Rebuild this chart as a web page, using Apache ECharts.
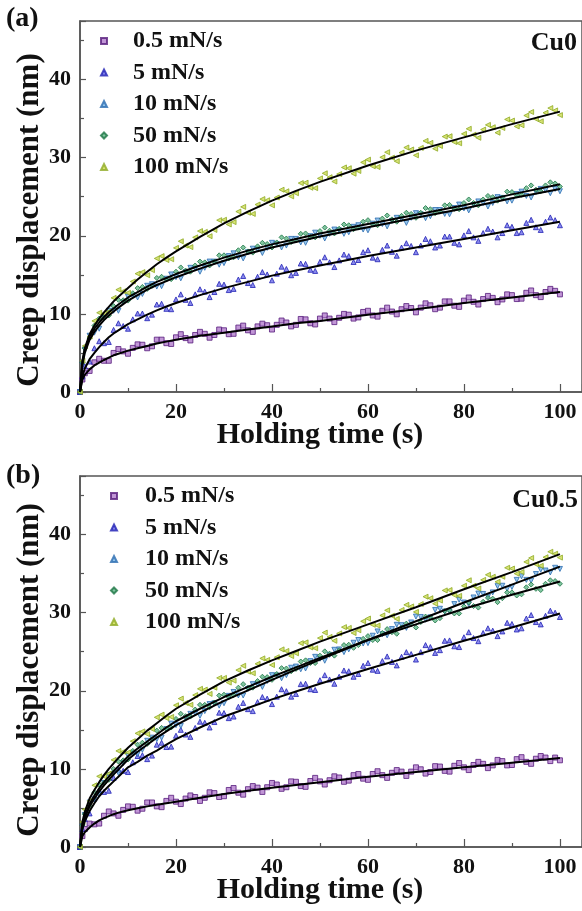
<!DOCTYPE html>
<html>
<head>
<meta charset="utf-8">
<title>Creep displacement vs holding time</title>
<script src="https://cdn.jsdelivr.net/npm/echarts@6/dist/echarts.min.js"></script>
<style>
  html, body { margin: 0; padding: 0; background: #fff; }
  #chart { width: 582px; height: 911px; }
</style>
</head>
<body>
<div id="chart"></div>
<script>
// loading rates (legend)
const rates = ['0.5 mN/s', '5 mN/s', '10 mN/s', '50 mN/s', '100 mN/s'];

// time grid of the fitted curves (s)
const fitTime = [0, 0.5, 1, 2, 3, 4, 5, 6, 7, 8, 10, 12, 14, 16, 18, 20, 25, 30, 35, 40, 45, 50, 60, 70, 80, 90, 100];

// time grid of the measured points (s)
const ptTime = [0, 0.5,
  1, 2, 3, 4, 5, 6, 7, 8, 9, 10, 11, 12, 13, 14, 15, 16, 17, 18, 19, 20,
  21, 22, 23, 24, 25, 26, 27, 28, 29, 30, 31, 32, 33, 34, 35, 36, 37, 38, 39, 40,
  41, 42, 43, 44, 45, 46, 47, 48, 49, 50, 51, 52, 53, 54, 55, 56, 57, 58, 59, 60,
  61, 62, 63, 64, 65, 66, 67, 68, 69, 70, 71, 72, 73, 74, 75, 76, 77, 78, 79, 80,
  81, 82, 83, 84, 85, 86, 87, 88, 89, 90, 91, 92, 93, 94, 95, 96, 97, 98, 99, 100];

// (a) Cu0 - fitted curves (nm)
const cu0Fit05 = [0, 1.6, 2.2, 2.9, 3.4, 3.75, 4.1, 4.4, 4.7, 4.9, 5.3, 5.6, 5.9, 6.2, 6.45, 6.7, 7.2, 7.6, 8.0, 8.4, 8.8, 9.1, 9.9, 10.6, 11.4, 12.1, 12.8];
const cu0Fit5 = [0, 2.0, 3.0, 4.2, 5.0, 5.75, 6.4, 7.0, 7.5, 7.9, 8.7, 9.3, 9.9, 10.45, 10.95, 11.4, 12.4, 13.3, 14.1, 14.9, 15.55, 16.2, 17.4, 18.5, 19.6, 20.7, 21.8];
const cu0Fit10 = [0, 3.5, 5.0, 6.7, 7.7, 8.5, 9.2, 9.8, 10.3, 10.8, 11.7, 12.4, 13.1, 13.7, 14.2, 14.7, 15.8, 16.8, 17.7, 18.5, 19.2, 19.9, 21.1, 22.3, 23.5, 24.8, 26.0];
const cu0Fit50 = [0, 3.8, 5.4, 7.1, 8.1, 8.9, 9.6, 10.2, 10.7, 11.2, 12.1, 12.8, 13.5, 14.1, 14.6, 15.1, 16.2, 17.2, 18.1, 18.9, 19.6, 20.3, 21.5, 22.7, 23.9, 25.3, 26.6];
const cu0Fit100 = [0, 4.0, 5.6, 7.4, 8.5, 9.4, 10.2, 10.9, 11.6, 12.2, 13.3, 14.4, 15.4, 16.35, 17.2, 18.0, 19.85, 21.6, 23.1, 24.5, 25.75, 26.9, 29.0, 30.9, 32.6, 34.3, 35.9];

// (a) Cu0 - measured points (nm)
const cu0Pts05 = [0, 1.6,
  2.4, 2.7, 3.8, 4.25, 4.0, 4.0, 5.0, 5.5, 5.2, 4.9,
  5.65, 6.1, 6.05, 5.6, 5.85, 6.7, 6.7, 6.25, 6.15, 7.0,
  7.4, 6.9, 6.6, 7.3, 7.7, 7.45, 6.95, 7.3, 8.0, 7.9,
  7.4, 7.45, 8.25, 8.5, 7.9, 7.7, 8.4, 8.75, 8.55, 8.0,
  8.6, 9.15, 8.9, 8.4, 8.6, 9.35, 9.3, 8.8, 8.65, 9.4,
  9.8, 9.4, 8.95, 9.5, 10.0, 9.9, 9.4, 9.55, 10.25, 10.4,
  9.8, 9.65, 10.4, 10.8, 10.3, 9.95, 10.6, 11.0, 10.75, 10.2,
  10.8, 11.35, 11.1, 10.6, 10.8, 11.6, 11.6, 11.05, 10.9, 11.7,
  12.1, 11.55, 11.2, 11.9, 12.3, 12.05, 11.5, 11.85, 12.5, 12.4,
  11.9, 11.95, 12.7, 13.0, 12.4, 12.15, 12.8, 13.2, 12.95, 12.5];
const cu0Pts5 = [0, 2.0,
  3.3, 3.9, 5.6, 6.5, 6.25, 6.4, 7.95, 8.8, 8.45, 8.1,
  9.3, 10.05, 10.05, 9.45, 9.9, 11.2, 11.3, 10.65, 10.6, 11.85,
  12.5, 11.8, 11.4, 12.5, 13.15, 12.85, 12.15, 12.8, 13.85, 13.75,
  13.05, 13.2, 14.4, 14.85, 13.95, 13.7, 14.75, 15.35, 15.05, 14.3,
  15.15, 16.05, 15.75, 14.95, 15.25, 16.45, 16.4, 15.65, 15.5, 16.65,
  17.25, 16.6, 16.0, 16.85, 17.6, 17.4, 16.65, 16.9, 17.9, 18.15,
  17.2, 17.0, 18.2, 18.75, 17.95, 17.45, 18.5, 19.05, 18.7, 17.9,
  18.75, 19.6, 19.3, 18.5, 18.75, 19.9, 19.9, 19.1, 18.9, 20.05,
  20.6, 19.8, 19.35, 20.35, 20.9, 20.55, 19.8, 20.35, 21.35, 21.15,
  20.35, 20.45, 21.65, 22.05, 21.1, 20.75, 21.8, 22.35, 22.0, 21.35];
const cu0Pts10 = [0, 3.5,
  5.4, 7.2, 7.6, 8.1, 9.5, 10.4, 10.4, 10.4, 11.45, 12.2,
  12.35, 12.1, 12.55, 13.6, 13.8, 13.5, 13.55, 14.5, 15.05, 14.7,
  14.55, 15.35, 15.9, 15.8, 15.4, 15.9, 16.7, 16.7, 16.3, 16.5,
  17.4, 17.75, 17.25, 17.1, 17.9, 18.35, 18.25, 17.8, 18.45, 19.1,
  18.95, 18.5, 18.75, 19.6, 19.6, 19.15, 19.1, 19.95, 20.4, 20.0,
  19.65, 20.25, 20.8, 20.7, 20.25, 20.45, 21.15, 21.35, 20.8, 20.7,
  21.55, 21.95, 21.5, 21.2, 21.9, 22.3, 22.15, 21.65, 22.3, 22.9,
  22.75, 22.25, 22.5, 23.3, 23.3, 22.8, 22.75, 23.55, 24.0, 23.5,
  23.25, 23.95, 24.4, 24.2, 23.75, 24.2, 24.95, 24.85, 24.4, 24.5,
  25.35, 25.65, 25.1, 24.9, 25.6, 26.0, 25.85, 25.45, 26.0, 25.7];
const cu0Pts50 = [0, 3.8,
  5.6, 6.9, 8.5, 9.4, 9.5, 9.8, 11.0, 11.8, 11.75, 11.7,
  12.65, 13.3, 13.45, 13.2, 13.6, 14.6, 14.75, 14.4, 14.45, 15.4,
  15.95, 15.55, 15.4, 16.2, 16.7, 16.6, 16.2, 16.7, 17.5, 17.5,
  17.1, 17.25, 18.15, 18.5, 18.0, 17.85, 18.65, 19.1, 18.95, 18.5,
  19.15, 19.8, 19.65, 19.2, 19.4, 20.25, 20.3, 19.85, 19.8, 20.6,
  21.05, 20.65, 20.3, 20.9, 21.45, 21.35, 20.85, 21.05, 21.8, 22.0,
  21.45, 21.35, 22.2, 22.6, 22.1, 21.8, 22.55, 22.95, 22.8, 22.3,
  22.95, 23.55, 23.4, 22.9, 23.1, 23.9, 23.95, 23.45, 23.4, 24.2,
  24.65, 24.2, 23.9, 24.65, 25.1, 24.95, 24.5, 24.9, 25.65, 25.6,
  25.15, 25.25, 26.1, 26.45, 25.9, 25.7, 26.45, 26.85, 26.7, 26.3];
const cu0Pts100 = [0, 4.0,
  5.9, 7.1, 9.1, 10.15, 10.05, 10.3, 12.05, 13.1, 12.9, 12.7,
  14.15, 15.15, 15.35, 14.95, 15.6, 17.1, 17.4, 16.9, 17.0, 18.45,
  19.3, 18.75, 18.55, 19.8, 20.6, 20.5, 19.95, 20.75, 22.0, 22.05,
  21.45, 21.75, 23.1, 23.7, 22.95, 22.8, 24.0, 24.7, 24.55, 23.9,
  24.9, 25.9, 25.7, 25.05, 25.45, 26.75, 26.8, 26.15, 26.1, 27.35,
  28.0, 27.5, 26.95, 27.9, 28.75, 28.65, 27.95, 28.3, 29.4, 29.75,
  28.9, 28.8, 30.05, 30.7, 30.0, 29.55, 30.65, 31.3, 31.05, 30.3,
  31.25, 32.15, 31.9, 31.15, 31.5, 32.7, 32.75, 32.0, 31.85, 33.05,
  33.7, 32.95, 32.55, 33.6, 34.2, 33.9, 33.2, 33.8, 34.9, 34.75,
  34.0, 34.15, 35.4, 35.85, 34.95, 34.65, 35.75, 36.35, 36.05, 35.45];

// (b) Cu0.5 - fitted curves (nm)
const cu05Fit05 = [0, 1.4, 1.9, 2.5, 3.0, 3.4, 3.7, 3.95, 4.2, 4.4, 4.7, 4.95, 5.2, 5.4, 5.6, 5.8, 6.3, 6.8, 7.2, 7.6, 7.95, 8.3, 9.0, 9.6, 10.2, 10.8, 11.4];
const cu05Fit5 = [0, 2.3, 3.3, 4.6, 5.6, 6.5, 7.2, 7.8, 8.4, 9.0, 10.2, 10.9, 11.7, 12.35, 13.1, 13.8, 15.3, 16.7, 17.8, 18.9, 19.9, 20.9, 22.8, 24.6, 26.4, 28.1, 29.9];
const cu05Fit10 = [0, 2.6, 3.7, 5.2, 6.2, 7.1, 7.9, 8.6, 9.3, 9.9, 11.2, 12.2, 13.1, 14.0, 14.8, 15.6, 17.2, 18.7, 20.05, 21.4, 22.7, 24.0, 26.5, 28.9, 31.3, 33.6, 35.9];
const cu05Fit50 = [0, 2.8, 4.0, 5.5, 6.6, 7.5, 8.3, 9.0, 9.7, 10.35, 11.6, 12.6, 13.5, 14.4, 15.3, 16.1, 17.7, 19.2, 20.5, 21.8, 23.0, 24.2, 26.5, 28.5, 30.5, 32.3, 34.0];
const cu05Fit100 = [0, 3.2, 4.5, 6.2, 7.3, 8.3, 9.2, 10.0, 10.7, 11.4, 12.7, 13.8, 14.9, 15.85, 16.8, 17.7, 19.5, 21.2, 22.6, 23.9, 25.1, 26.3, 28.5, 30.7, 33.0, 35.2, 37.5];

// (b) Cu0.5 - measured points (nm)
const cu05Pts05 = [0, 1.4,
  2.3, 3.0, 2.9, 3.0, 4.0, 4.55, 4.3, 4.0, 4.75, 5.2,
  5.15, 4.65, 4.9, 5.7, 5.7, 5.2, 5.1, 5.9, 6.3, 5.8,
  5.5, 6.2, 6.6, 6.4, 5.9, 6.3, 7.0, 6.9, 6.4, 6.5,
  7.3, 7.55, 6.95, 6.7, 7.4, 7.8, 7.6, 7.05, 7.65, 8.2,
  8.0, 7.45, 7.65, 8.4, 8.35, 7.8, 7.7, 8.45, 8.85, 8.4,
  8.0, 8.55, 9.05, 8.9, 8.35, 8.5, 9.2, 9.35, 8.75, 8.6,
  9.35, 9.7, 9.2, 8.85, 9.5, 9.85, 9.65, 9.1, 9.65, 10.2,
  9.95, 9.4, 9.6, 10.35, 10.3, 9.75, 9.65, 10.4, 10.75, 10.2,
  9.85, 10.5, 10.9, 10.65, 10.1, 10.45, 11.15, 11.0, 10.45, 10.5,
  11.25, 11.5, 10.9, 10.65, 11.3, 11.65, 11.45, 11.0, 11.45, 11.1];
const cu05Pts5 = [0, 2.3,
  3.6, 4.3, 6.2, 7.25, 7.05, 7.2, 8.85, 9.9, 9.75, 9.6,
  10.85, 11.65, 11.75, 11.25, 11.7, 13.1, 13.35, 12.8, 12.85, 14.25,
  15.0, 14.4, 14.1, 15.25, 16.05, 15.9, 15.3, 16.0, 17.2, 17.15,
  16.5, 16.7, 17.95, 18.45, 17.65, 17.4, 18.55, 19.2, 19.0, 18.3,
  19.25, 20.2, 19.95, 19.25, 19.6, 20.85, 20.9, 20.2, 20.1, 21.35,
  22.0, 21.45, 20.9, 21.8, 22.6, 22.5, 21.8, 22.15, 23.2, 23.55,
  22.7, 22.55, 23.8, 24.4, 23.7, 23.25, 24.35, 24.95, 24.7, 24.0,
  24.95, 25.85, 25.6, 24.85, 25.2, 26.4, 26.45, 25.7, 25.6, 26.85,
  27.5, 26.75, 26.35, 27.4, 28.0, 27.7, 27.0, 27.6, 28.7, 28.55,
  27.85, 28.0, 29.25, 29.7, 28.8, 28.5, 29.6, 30.25, 30.0, 29.45];
const cu05Pts10 = [0, 2.6,
  4.1, 5.7, 6.1, 6.7, 8.2, 9.2, 9.4, 9.5, 10.75, 11.7,
  12.0, 11.9, 12.45, 13.6, 14.0, 13.8, 14.0, 15.1, 15.8, 15.6,
  15.5, 16.45, 17.05, 17.1, 16.8, 17.4, 18.3, 18.4, 18.1, 18.4,
  19.35, 19.85, 19.4, 19.4, 20.25, 20.85, 20.8, 20.5, 21.25, 22.0,
  21.95, 21.6, 22.0, 22.95, 23.1, 22.75, 22.85, 23.8, 24.35, 24.1,
  23.85, 24.6, 25.25, 25.3, 24.95, 25.3, 26.15, 26.5, 26.05, 26.1,
  27.05, 27.6, 27.25, 27.1, 27.9, 28.45, 28.4, 28.05, 28.75, 29.5,
  29.45, 29.1, 29.4, 30.35, 30.5, 30.15, 30.15, 31.1, 31.65, 31.3,
  31.1, 31.95, 32.45, 32.4, 32.05, 32.6, 33.4, 33.45, 33.05, 33.3,
  34.2, 34.65, 34.2, 34.1, 34.95, 35.5, 35.4, 35.15, 35.75, 35.6];
const cu05Pts50 = [0, 2.8,
  4.2, 5.3, 7.0, 8.0, 8.2, 8.6, 10.0, 10.95, 11.1, 11.2,
  12.3, 13.1, 13.35, 13.2, 13.8, 14.9, 15.25, 15.1, 15.3, 16.4,
  17.05, 16.75, 16.7, 17.6, 18.2, 18.2, 17.9, 18.5, 19.4, 19.5,
  19.2, 19.45, 20.4, 20.85, 20.4, 20.4, 21.25, 21.8, 21.75, 21.4,
  22.15, 22.9, 22.85, 22.5, 22.8, 23.75, 23.9, 23.55, 23.55, 24.5,
  25.05, 24.75, 24.5, 25.2, 25.85, 25.9, 25.5, 25.85, 26.65, 27.0,
  26.5, 26.5, 27.4, 27.9, 27.5, 27.3, 28.1, 28.6, 28.5, 28.1,
  28.8, 29.5, 29.4, 29.0, 29.3, 30.2, 30.3, 29.9, 29.9, 30.8,
  31.3, 30.85, 30.65, 31.4, 31.9, 31.8, 31.35, 31.85, 32.6, 32.6,
  32.2, 32.35, 33.25, 33.6, 33.05, 32.9, 33.7, 34.15, 34.05, 33.7];
const cu05Pts100 = [0, 3.2,
  4.8, 5.9, 7.9, 9.05, 9.05, 9.4, 11.15, 12.3, 12.2, 12.1,
  13.55, 14.55, 14.8, 14.45, 15.1, 16.6, 16.95, 16.5, 16.65, 18.15,
  19.0, 18.45, 18.2, 19.45, 20.25, 20.15, 19.6, 20.4, 21.65, 21.65,
  21.05, 21.3, 22.65, 23.2, 22.45, 22.25, 23.45, 24.15, 23.95, 23.3,
  24.3, 25.3, 25.1, 24.45, 24.8, 26.1, 26.2, 25.55, 25.45, 26.75,
  27.45, 26.9, 26.4, 27.35, 28.15, 28.05, 27.4, 27.75, 28.9, 29.25,
  28.45, 28.35, 29.65, 30.3, 29.6, 29.2, 30.35, 31.0, 30.8, 30.1,
  31.1, 32.05, 31.85, 31.15, 31.55, 32.85, 32.9, 32.25, 32.15, 33.45,
  34.15, 33.45, 33.1, 34.2, 34.85, 34.6, 33.95, 34.6, 35.75, 35.65,
  35.0, 35.2, 36.5, 37.0, 36.2, 36.0, 37.1, 37.8, 37.55, 37.05];

const panelFits = [
  [cu0Fit05, cu0Fit5, cu0Fit10, cu0Fit50, cu0Fit100],
  [cu05Fit05, cu05Fit5, cu05Fit10, cu05Fit50, cu05Fit100]
];
const panelPts = [
  [cu0Pts05, cu0Pts5, cu0Pts10, cu0Pts50, cu0Pts100],
  [cu05Pts05, cu05Pts5, cu05Pts10, cu05Pts50, cu05Pts100]
];

// marker look per loading rate
const markers = [
  { symbol: 'rect', rotate: 0, fill: '#b27ccc', edge: '#561c7c' },
  { symbol: 'triangle', rotate: 0, fill: '#6f6fea', edge: '#2020b4' },
  { symbol: 'triangle', rotate: 180, fill: '#7ab6e6', edge: '#2a6cb0' },
  { symbol: 'diamond', rotate: 0, fill: '#62b688', edge: '#1c7444' },
  { symbol: 'triangle', rotate: 90, fill: '#cedc52', edge: '#8eaa24' }
];

const serif = "'Liberation Serif', 'Times New Roman', serif";
const axisColor = '#555';

const grids = [
  { left: 80, top: 21, width: 503, height: 371, show: true, borderColor: axisColor, borderWidth: 1.5 },
  { left: 80, top: 476, width: 503, height: 371, show: true, borderColor: axisColor, borderWidth: 1.5 }
];

function xAxisFor(i) {
  return {
    type: 'value', gridIndex: i, min: 0, max: 104.6, interval: 20,
    axisLine: { show: true, onZero: false, lineStyle: { color: axisColor, width: 1.5 } },
    axisTick: { inside: true, length: 8, lineStyle: { color: axisColor, width: 1.2 } },
    minorTick: { show: true, splitNumber: 2, length: 4, lineStyle: { color: axisColor, width: 1.2 } },
    splitLine: { show: false },
    axisLabel: { showMaxLabel: false, margin: 9, color: '#111', fontFamily: serif, fontWeight: 'bold', fontSize: 22 }
  };
}
function yAxisFor(i) {
  return {
    type: 'value', gridIndex: i, min: 0, max: 47.5, interval: 10,
    axisLine: { show: true, onZero: false, lineStyle: { color: axisColor, width: 1.5 } },
    axisTick: { inside: true, length: 6, lineStyle: { color: axisColor, width: 1.2 } },
    minorTick: { show: true, splitNumber: 2, length: 4, lineStyle: { color: axisColor, width: 1.2 } },
    splitLine: { show: false },
    axisLabel: { showMaxLabel: false, margin: 9, color: '#111', fontFamily: serif, fontWeight: 'bold', fontSize: 22 }
  };
}

const series = [];
[0, 1].forEach(p => {
  rates.forEach((name, k) => {
    const m = markers[k];
    series.push({
      name: name, type: 'scatter', xAxisIndex: p, yAxisIndex: p,
      symbol: m.symbol, symbolRotate: m.rotate, symbolSize: 5,
      itemStyle: { color: m.fill, borderColor: m.edge, borderWidth: 1 },
      data: ptTime.map((t, j) => [t, panelPts[p][k][j]]),
      z: 2, silent: true
    });
  });
  rates.forEach((name, k) => {
    series.push({
      name: 'fit ' + name, type: 'line', xAxisIndex: p, yAxisIndex: p,
      showSymbol: false, smooth: false,
      lineStyle: { color: '#000', width: 2 },
      data: fitTime.map((t, j) => [t, panelFits[p][k][j]]),
      z: 3, silent: true
    });
  });
});

function legendFor(left, top, pad) {
  return {
    data: rates, orient: 'vertical', left: left, top: top,
    itemWidth: 6, itemHeight: 6, itemGap: 7.5,
    selectedMode: false,
    textStyle: { fontFamily: serif, fontWeight: 'bold', fontSize: 24, color: '#111',
      lineHeight: 24, padding: [0, 0, 0, pad] }
  };
}

function label(text, x, y, size, align, rot) {
  return {
    type: 'text', x: x, y: y, rotation: rot || 0, silent: true,
    style: { text: text, fontFamily: serif, fontWeight: 'bold', fontSize: size, fill: '#111',
      textAlign: align, textVerticalAlign: 'middle' }
  };
}

const chart = echarts.init(document.getElementById('chart'));
chart.setOption({
  animation: false,
  backgroundColor: '#fff',
  grid: grids,
  xAxis: [xAxisFor(0), xAxisFor(1)],
  yAxis: [yAxisFor(0), yAxisFor(1)],
  legend: [legendFor(95, 24, 21), legendFor(105, 479, 23)],
  series: series,
  graphic: [
    label('(a)', 6, 19, 28, 'left'),
    label('(b)', 6, 476, 28, 'left'),
    label('Cu0', 577, 43, 26, 'right'),
    label('Cu0.5', 578, 500, 26, 'right'),
    label('Holding time (s)', 320, 435, 30, 'center'),
    label('Holding time (s)', 320, 890, 30, 'center'),
    label('Creep displacement (nm)', 30, 220, 31, 'center', Math.PI / 2),
    label('Creep displacement (nm)', 30, 670, 31, 'center', Math.PI / 2)
  ]
});
</script>
</body>
</html>
